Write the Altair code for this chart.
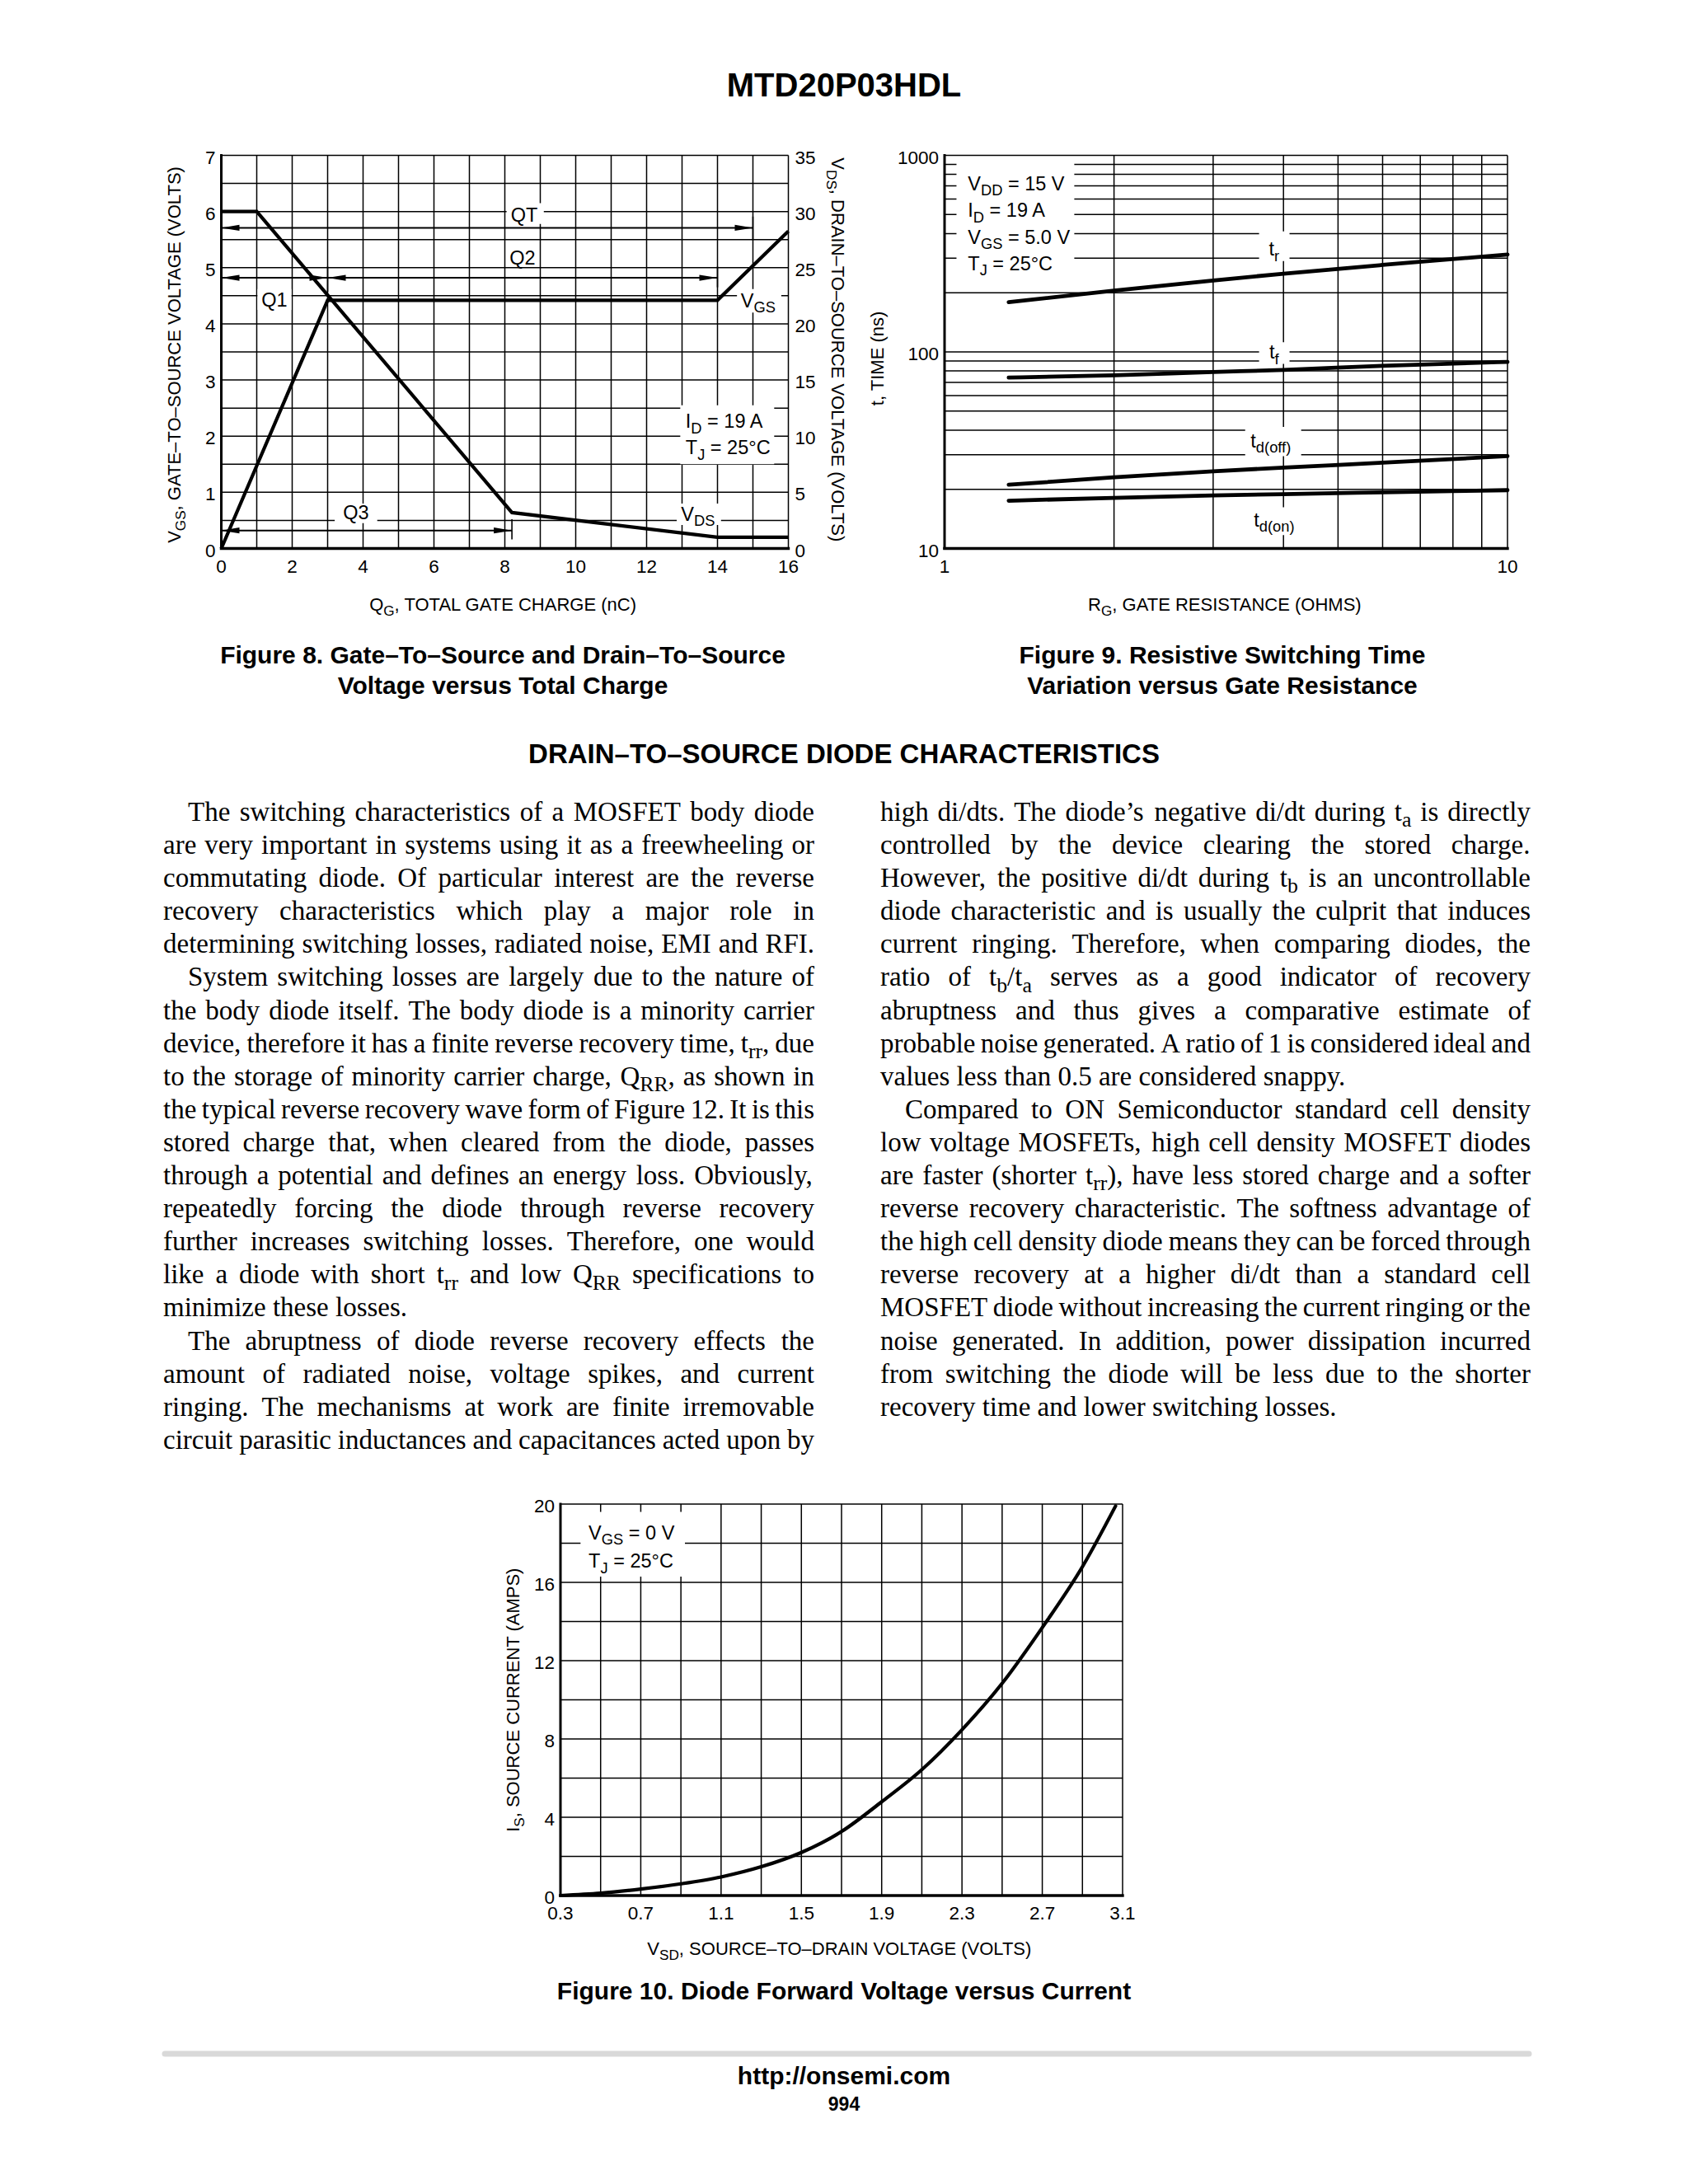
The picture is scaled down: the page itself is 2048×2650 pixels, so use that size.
import re
import altair as alt
import pandas as pd

SANS = "Liberation Sans, Arial, Helvetica, sans-serif"
SERIF = "Liberation Serif, Times New Roman, Times, serif"

# ---------------- Figure 8: gate charge ----------------
QG_VGS = [0.0, 3.0, 14.0, 16.0]
VGS_V = [0.0, 4.42, 4.42, 5.65]
QG_VDS = [0.0, 1.0, 8.2, 14.0, 16.0]
VDS_V = [30.0, 30.0, 3.2, 1.0, 1.0]
Q8_GRID = [0, 1, 2, 3, 4, 5, 6, 7, 8, 9, 10, 11, 12, 13, 14, 15, 16]
VGS_GRID = [0, 0.5, 1, 1.5, 2, 2.5, 3, 3.5, 4, 4.5, 5, 5.5, 6, 6.5, 7]
Q8_LABELS = [0, 2, 4, 6, 8, 10, 12, 14, 16]
VGS_LABELS = [0, 1, 2, 3, 4, 5, 6, 7]
VDS_LABELS = [0, 5, 10, 15, 20, 25, 30, 35]
ARROW_X1 = [0.0, 0.0, 3.0, 0.0]
ARROW_X2 = [15.0, 3.0, 14.0, 8.2]
ARROW_Y = [5.71, 4.82, 4.82, 0.32]
STOP_X = [15.0, 3.0, 14.0, 8.2]
STOP_Y1 = [5.49, 4.57, 4.65, 0.16]
STOP_Y2 = [5.91, 5.02, 5.02, 0.52]
LAB8 = [("QT", 8.55, 5.95, "center"), ("Q2", 8.5, 5.18, "center"),
        ("Q1", 1.5, 4.43, "center"), ("Q3", 3.8, 0.64, "center"),
        ("V_{GS}", 15.15, 4.42, "center"), ("V_{DS}", 13.45, 0.62, "center"),
        ("I_{D} = 19 A", 13.1, 2.27, "left"), ("T_{J} = 25°C", 13.1, 1.80, "left")]
BOX8_X1 = [8.05, 8.1, 1.02, 3.2, 14.55, 12.85, 12.95]
BOX8_X2 = [9.1, 8.95, 1.98, 4.4, 15.8, 14.1, 15.6]
BOX8_Y1 = [5.78, 5.04, 4.25, 0.45, 4.2, 0.42, 1.5]
BOX8_Y2 = [6.15, 5.36, 4.62, 0.8, 4.62, 0.8, 2.55]

# ---------------- Figure 9: switching time ----------------
RG = [1.3, 2.0, 3.0, 4.0, 6.0, 10.0]
T_R = [179, 205, 231, 250, 277, 313]
T_F = [74, 76, 79, 81, 85, 89]
T_DOFF = [21.1, 23.0, 24.7, 25.8, 27.3, 29.5]
T_DON = [17.5, 18.1, 18.6, 18.9, 19.3, 19.8]
RG_GRID = [1, 2, 3, 4, 5, 6, 7, 8, 9, 10]
T_GRID = [10, 20, 30, 40, 50, 60, 70, 80, 90, 100, 200, 300, 400, 500, 600, 700, 800, 900, 1000]
RG_LABELS = [1, 10]
T_LABELS = [10, 100, 1000]
LAB9 = [("V_{DD} = 15 V", 1.1, 719, "left"), ("I_{D} = 19 A", 1.1, 527, "left"),
        ("V_{GS} = 5.0 V", 1.1, 386, "left"), ("T_{J} = 25°C", 1.1, 282, "left"),
        ("t_{r}", 3.85, 335, "center"), ("t_{f}", 3.85, 100, "center"),
        ("t_{d(off)}", 3.8, 35.5, "center"), ("t_{d(on)}", 3.85, 14.0, "center")]
BOX9_X1 = [1.05, 3.62, 3.62, 3.42, 3.48]
BOX9_X2 = [1.70, 4.10, 4.10, 4.30, 4.28]
BOX9_Y1 = [240, 290, 87, 29.5, 11.7]
BOX9_Y2 = [950, 410, 112, 41.5, 16.2]

# ---------------- Figure 10: diode forward voltage ----------------
VSD = [0.3, 0.5, 0.7, 0.9, 1.1, 1.3, 1.5, 1.7, 1.9, 2.1, 2.3, 2.5, 2.7, 2.9, 3.065]
IS_A = [0.0, 0.12, 0.33, 0.6, 0.95, 1.47, 2.2, 3.27, 4.79, 6.43, 8.47, 10.84, 13.69, 16.8, 19.9]
VSD_GRID = [0.3, 0.5, 0.7, 0.9, 1.1, 1.3, 1.5, 1.7, 1.9, 2.1, 2.3, 2.5, 2.7, 2.9, 3.1]
IS_GRID = [0, 2, 4, 6, 8, 10, 12, 14, 16, 18, 20]
VSD_LABELS = [0.3, 0.7, 1.1, 1.5, 1.9, 2.3, 2.7, 3.1]
IS_LABELS = [0, 4, 8, 12, 16, 20]
LAB10 = [("V_{GS} = 0 V", 0.44, 18.55, "left"), ("T_{J} = 25°C", 0.44, 17.1, "left")]
BOX10_X1 = [0.40]
BOX10_X2 = [0.92]
BOX10_Y1 = [16.3]
BOX10_Y2 = [19.6]

# ---------------- page text ----------------
TITLE = "MTD20P03HDL"
CAP8 = ["Figure 8. Gate–To–Source and Drain–To–Source", "Voltage versus Total Charge"]
CAP9 = ["Figure 9. Resistive Switching Time", "Variation versus Gate Resistance"]
HEADER = "DRAIN–TO–SOURCE DIODE CHARACTERISTICS"
CAP10 = "Figure 10. Diode Forward Voltage versus Current"
URL = "http://onsemi.com"
PAGE = "994"
LEFT_LINES = [
    "The switching characteristics of a MOSFET body diode",
    "are very important in systems using it as a freewheeling or",
    "commutating diode. Of particular interest are the reverse",
    "recovery characteristics which play a major role in",
    "determining switching losses, radiated noise, EMI and RFI.",
    "System switching losses are largely due to the nature of",
    "the body diode itself. The body diode is a minority carrier",
    "device, therefore it has a finite reverse recovery time, t_{rr}, due",
    "to the storage of minority carrier charge, Q_{RR}, as shown in",
    "the typical reverse recovery wave form of Figure 12. It is this",
    "stored charge that, when cleared from the diode, passes",
    "through a potential and defines an energy loss. Obviously,",
    "repeatedly forcing the diode through reverse recovery",
    "further increases switching losses. Therefore, one would",
    "like a diode with short t_{rr} and low Q_{RR} specifications to",
    "minimize these losses.",
    "The abruptness of diode reverse recovery effects the",
    "amount of radiated noise, voltage spikes, and current",
    "ringing. The mechanisms at work are finite irremovable",
    "circuit parasitic inductances and capacitances acted upon by",
]
LEFT_INDENT = [0, 5, 16]
LEFT_LAST = [4, 15]
RIGHT_LINES = [
    "high di/dts. The diode’s negative di/dt during t_{a} is directly",
    "controlled by the device clearing the stored charge.",
    "However, the positive di/dt during t_{b} is an uncontrollable",
    "diode characteristic and is usually the culprit that induces",
    "current ringing. Therefore, when comparing diodes, the",
    "ratio of t_{b}/t_{a} serves as a good indicator of recovery",
    "abruptness and thus gives a comparative estimate of",
    "probable noise generated. A ratio of 1 is considered ideal and",
    "values less than 0.5 are considered snappy.",
    "Compared to ON Semiconductor standard cell density",
    "low voltage MOSFETs, high cell density MOSFET diodes",
    "are faster (shorter t_{rr}), have less stored charge and a softer",
    "reverse recovery characteristic. The softness advantage of",
    "the high cell density diode means they can be forced through",
    "reverse recovery at a higher di/dt than a standard cell",
    "MOSFET diode without increasing the current ringing or the",
    "noise generated. In addition, power dissipation incurred",
    "from switching the diode will be less due to the shorter",
    "recovery time and lower switching losses.",
]
RIGHT_INDENT = [9]
RIGHT_LAST = [8, 18]

# ---------------- layout (pixels from chart origin; page = +8) ----------------
PAGE_W, PAGE_H = 2032, 2634
F8 = dict(x=260.5, y=180.5, w=688, h=477)
F9 = dict(x=1138, y=180.5, w=683, h=477)
F10 = dict(x=672, y=1817, w=682, h=475)

# ---------------- font metrics (Helvetica / Times widths per 1000 em) ----------------
HELV_W = {' ': 278, '!': 278, '(': 333, ')': 333, ',': 278, '-': 333, '.': 278, '/': 278,
          ':': 278, '=': 584, '°': 400, '–': 556, '’': 222}
TIMES_W = {' ': 250, '!': 333, '(': 333, ')': 333, ',': 250, '-': 333, '.': 250, '/': 278,
           ':': 278, ';': 278, '=': 564, '’': 333, '–': 500, '?': 444}
for _c in '0123456789':
    HELV_W[_c] = 556
    TIMES_W[_c] = 500
HELV_W.update(dict(zip('ABCDEFGHIJKLMNOPQRSTUVWXYZ',
    [667, 667, 722, 722, 667, 611, 778, 722, 278, 500, 667, 556, 833, 722, 778, 667, 778, 722, 667, 611, 722, 667, 944, 667, 667, 611])))
HELV_W.update(dict(zip('abcdefghijklmnopqrstuvwxyz',
    [556, 556, 500, 556, 556, 278, 556, 556, 222, 222, 500, 222, 833, 556, 556, 556, 556, 333, 500, 278, 556, 500, 722, 500, 500, 500])))
TIMES_W.update(dict(zip('ABCDEFGHIJKLMNOPQRSTUVWXYZ',
    [722, 667, 667, 722, 611, 556, 722, 722, 333, 389, 722, 611, 889, 722, 722, 556, 722, 667, 556, 611, 722, 722, 944, 722, 722, 611])))
TIMES_W.update(dict(zip('abcdefghijklmnopqrstuvwxyz',
    [444, 500, 444, 500, 444, 333, 500, 500, 278, 278, 500, 278, 778, 500, 500, 500, 500, 333, 389, 278, 500, 500, 722, 500, 500, 444])))
SUB = 0.78
TICK_SIZE = 22.5
LABEL_SIZE = 23.5
TITLE_SIZE = 22


def tw(text, size, table):
    return sum(table.get(c, 500) for c in text) / 1000.0 * size


def parse(markup):
    out, pos = [], 0
    for m in re.finditer(r'_\{([^}]*)\}', markup):
        if m.start() > pos:
            out.append((markup[pos:m.start()], False))
        out.append((m.group(1), True))
        pos = m.end()
    if pos < len(markup):
        out.append((markup[pos:], False))
    return out


def layout_pieces(markup, size, table, align):
    items, along = [], 0.0
    for t, s in parse(markup):
        fs = size * SUB if s else size
        stripped = t.lstrip(' ')
        along += tw(t[:len(t) - len(stripped)], fs, table)
        t2 = stripped.rstrip(' ')
        if t2:
            items.append((t2, s, fs, along))
        along += tw(stripped, fs, table)
    shift = {'left': 0.0, 'center': -along / 2, 'right': -along}[align]
    return [(t, s, fs, a + shift) for t, s, fs, a in items]


def S(domain, rng, log=False):
    if log:
        return alt.Scale(type='log', domain=domain, range=rng, nice=False)
    return alt.Scale(domain=domain, range=rng, nice=False, zero=False)


def XQ(f, sc):
    return alt.X(f, type='quantitative', scale=sc, axis=None)


def YQ(f, sc):
    return alt.Y(f, type='quantitative', scale=sc, axis=None)


GRID_W = 1.5


def grid(xv, yv, sx, sy, xdom, ydom):
    v = pd.DataFrame({'v': xv, 'lo': ydom[0], 'hi': ydom[1]})
    h = pd.DataFrame({'v': yv, 'lo': xdom[0], 'hi': xdom[1]})
    return [
        alt.Chart(v).mark_rule(color='black', strokeWidth=GRID_W).encode(x=XQ('v', sx), y=YQ('lo', sy), y2='hi'),
        alt.Chart(h).mark_rule(color='black', strokeWidth=GRID_W).encode(y=YQ('v', sy), x=XQ('lo', sx), x2='hi'),
    ]


def frame(sx, sy, xdom, ydom):
    left = pd.DataFrame({'v': [xdom[0]], 'lo': [ydom[0]], 'hi': [ydom[1]]})
    bottom = pd.DataFrame({'v': [ydom[0]], 'lo': [xdom[0]], 'hi': [xdom[1]]})
    return [
        alt.Chart(left).mark_rule(color='black', strokeWidth=3.0, strokeCap='square').encode(
            x=XQ('v', sx), y=YQ('lo', sy), y2='hi'),
        alt.Chart(bottom).mark_rule(color='black', strokeWidth=3.4, strokeCap='square').encode(
            y=YQ('v', sy), x=XQ('lo', sx), x2='hi'),
    ]


def boxes(x1, x2, y1, y2, sx, sy):
    df = pd.DataFrame({'x1': x1, 'x2': x2, 'y1': y1, 'y2': y2})
    return alt.Chart(df).mark_rect(color='white').encode(x=XQ('x1', sx), x2='x2', y=YQ('y1', sy), y2='y2')


def tick_labels(vals, texts, at, sx, sy, side, size=TICK_SIZE):
    df = pd.DataFrame({'v': vals, 't': texts, 'b': at})
    if side == 'bottom':
        m = alt.Chart(df).mark_text(font=SANS, fontSize=size, align='center', baseline='top', dy=11,
                                    angle=0, color='black')
        return m.encode(x=XQ('v', sx), y=YQ('b', sy), text='t:N')
    if side == 'left':
        m = alt.Chart(df).mark_text(font=SANS, fontSize=size, align='right', baseline='middle', dx=-7, dy=3,
                                    angle=0, color='black')
        return m.encode(y=YQ('v', sy), x=XQ('b', sx), text='t:N')
    m = alt.Chart(df).mark_text(font=SANS, fontSize=size, align='left', baseline='middle', dx=8, dy=3,
                                angle=0, color='black')
    return m.encode(y=YQ('v', sy), x=XQ('b', sx), text='t:N')


def fig_labels(specs, sx, sy, size=LABEL_SIZE):
    layers = []
    for markup, x, y, align in specs:
        df = pd.DataFrame({'x': [x], 'y': [y]})
        for t, s, fs, along in layout_pieces(markup, size, HELV_W, align):
            dy = 0.36 * size + (0.27 * size if s else 0)
            layers.append(
                alt.Chart(df).mark_text(text=t, font=SANS, fontSize=fs, align='left', baseline='alphabetic',
                                        dx=along, dy=dy, angle=0, color='black')
                .encode(x=XQ('x', sx), y=YQ('y', sy)))
    return layers


def fmt(v):
    return str(v)


layers = []

# ---------------- Figure 8 ----------------
sx8 = S([0, 16], [F8['x'], F8['x'] + F8['w']])
sy8 = S([0, 7], [F8['y'] + F8['h'], F8['y']])
sy8r = S([0, 35], [F8['y'] + F8['h'], F8['y']])
layers += grid(Q8_GRID, VGS_GRID, sx8, sy8, [0, 16], [0, 7])
layers.append(boxes(BOX8_X1, BOX8_X2, BOX8_Y1, BOX8_Y2, sx8, sy8))
layers += frame(sx8, sy8, [0, 16], [0, 7])
layers.append(alt.Chart(pd.DataFrame({'q': QG_VGS, 'v': VGS_V})).mark_line(color='black', strokeWidth=4.2)
              .encode(x=XQ('q', sx8), y=YQ('v', sy8)))
layers.append(alt.Chart(pd.DataFrame({'q': QG_VDS, 'v': VDS_V})).mark_line(color='black', strokeWidth=4.2)
              .encode(x=XQ('q', sx8), y=YQ('v', sy8r)))
layers.append(alt.Chart(pd.DataFrame({'x1': ARROW_X1, 'x2': ARROW_X2, 'y': ARROW_Y}))
              .mark_rule(color='black', strokeWidth=2).encode(x=XQ('x1', sx8), x2='x2', y=YQ('y', sy8)))
layers.append(alt.Chart(pd.DataFrame({'x': STOP_X, 'y1': STOP_Y1, 'y2': STOP_Y2}))
              .mark_rule(color='black', strokeWidth=1.6).encode(x=XQ('x', sx8), y=YQ('y1', sy8), y2='y2'))
layers.append(alt.Chart(pd.DataFrame({'x': ARROW_X2, 'y': ARROW_Y}))
              .mark_point(shape="M0,0L-2,-0.33L-2,0.33Z", filled=True, size=484, color='black', opacity=1)
              .encode(x=XQ('x', sx8), y=YQ('y', sy8)))
layers.append(alt.Chart(pd.DataFrame({'x': ARROW_X1, 'y': ARROW_Y}))
              .mark_point(shape="M0,0L2,-0.33L2,0.33Z", filled=True, size=484, color='black', opacity=1)
              .encode(x=XQ('x', sx8), y=YQ('y', sy8)))
layers += fig_labels(LAB8, sx8, sy8)
layers.append(tick_labels(Q8_LABELS, [fmt(v) for v in Q8_LABELS], 0, sx8, sy8, 'bottom'))
layers.append(tick_labels(VGS_LABELS, [fmt(v) for v in VGS_LABELS], 0, sx8, sy8, 'left'))
layers.append(tick_labels(VDS_LABELS, [fmt(v) for v in VDS_LABELS], 16, sx8, sy8r, 'right'))

# ---------------- Figure 9 ----------------
sx9 = S([1, 10], [F9['x'], F9['x'] + F9['w']], log=True)
sy9 = S([10, 1000], [F9['y'] + F9['h'], F9['y']], log=True)
layers += grid(RG_GRID, T_GRID, sx9, sy9, [1, 10], [10, 1000])
layers.append(boxes(BOX9_X1, BOX9_X2, BOX9_Y1, BOX9_Y2, sx9, sy9))
layers += frame(sx9, sy9, [1, 10], [10, 1000])
df9 = pd.concat([pd.DataFrame({'rg': RG, 't': T_R, 's': 'tr'}),
                 pd.DataFrame({'rg': RG, 't': T_F, 's': 'tf'}),
                 pd.DataFrame({'rg': RG, 't': T_DOFF, 's': 'tdoff'}),
                 pd.DataFrame({'rg': RG, 't': T_DON, 's': 'tdon'})], ignore_index=True)
layers.append(alt.Chart(df9).mark_line(color='black', strokeWidth=4.8, strokeCap='round', interpolate='monotone')
              .encode(x=XQ('rg', sx9), y=YQ('t', sy9), detail='s:N'))
layers += fig_labels(LAB9, sx9, sy9)
layers.append(tick_labels(RG_LABELS, [fmt(v) for v in RG_LABELS], 10, sx9, sy9, 'bottom'))
layers.append(tick_labels(T_LABELS, [fmt(v) for v in T_LABELS], 1, sx9, sy9, 'left'))

# ---------------- Figure 10 ----------------
sx10 = S([0.3, 3.1], [F10['x'], F10['x'] + F10['w']])
sy10 = S([0, 20], [F10['y'] + F10['h'], F10['y']])
layers += grid(VSD_GRID, IS_GRID, sx10, sy10, [0.3, 3.1], [0, 20])
layers.append(boxes(BOX10_X1, BOX10_X2, BOX10_Y1, BOX10_Y2, sx10, sy10))
layers += frame(sx10, sy10, [0.3, 3.1], [0, 20])
layers.append(alt.Chart(pd.DataFrame({'v': VSD, 'i': IS_A}))
              .mark_line(color='black', strokeWidth=4.2, strokeCap='round', interpolate='monotone')
              .encode(x=XQ('v', sx10), y=YQ('i', sy10)))
layers += fig_labels(LAB10, sx10, sy10)
layers.append(tick_labels(VSD_LABELS, [fmt(v) for v in VSD_LABELS], 0, sx10, sy10, 'bottom'))
layers.append(tick_labels(IS_LABELS, [fmt(v) for v in IS_LABELS], 0.3, sx10, sy10, 'left'))

# ---------------- page text ----------------
rows = []


def add_text(cx, cy, markup, size, font='sans', weight='normal', angle=0, align='center', lift=0.36):
    table = HELV_W if font == 'sans' else TIMES_W
    if '_{' not in markup:
        rows.append(dict(x=cx, y=cy + lift * size, text=markup, size=size, font=font, weight=weight,
                         angle=angle, align=align))
        return
    for t, s, fs, along in layout_pieces(markup, size, table, align):
        perp = lift * size + (0.27 * size if s else 0)
        if angle == 0:
            x, y = cx + along, cy + perp
        elif angle == 270:
            x, y = cx + perp, cy - along
        else:
            x, y = cx - perp, cy + along
        rows.append(dict(x=x, y=y, text=t, size=fs, font=font, weight=weight, angle=angle, align='left'))


add_text(1016, 95, TITLE, 40, weight='bold')
add_text(602, 787, CAP8[0], 30, weight='bold', lift=0.33)
add_text(602, 824, CAP8[1], 30, weight='bold', lift=0.33)
add_text(1475, 787, CAP9[0], 30, weight='bold', lift=0.33)
add_text(1475, 824, CAP9[1], 30, weight='bold', lift=0.33)
add_text(1016, 906, HEADER, 33, weight='bold')
add_text(1016, 2408, CAP10, 30, weight='bold', lift=0.33)
add_text(1016, 2511, URL, 30, weight='bold', lift=0.33)
add_text(1016, 2545, PAGE, 23, weight='bold')

add_text(F8['x'] + F8['w'] / 2, 725, "Q_{G}, TOTAL GATE CHARGE (nC)", TITLE_SIZE)
add_text(203, F8['y'] + F8['h'] / 2, "V_{GS}, GATE–TO–SOURCE VOLTAGE (VOLTS)", TITLE_SIZE, angle=270)
add_text(1009, F8['y'] + F8['h'] / 2, "V_{DS}, DRAIN–TO–SOURCE VOLTAGE (VOLTS)", TITLE_SIZE, angle=90)
add_text(1064, F9['y'] + F9['h'] / 2, "t, TIME (ns)", TITLE_SIZE, angle=270)
add_text(F9['x'] + F9['w'] / 2, 725, "R_{G}, GATE RESISTANCE (OHMS)", TITLE_SIZE)
add_text(614, F10['y'] + F10['h'] / 2, "I_{S}, SOURCE CURRENT (AMPS)", TITLE_SIZE, angle=270)
add_text(F10['x'] + F10['w'] / 2, 2356, "V_{SD}, SOURCE–TO–DRAIN VOLTAGE (VOLTS)", TITLE_SIZE)


def body(lines, indents, lasts, x0, width, y0, lh=40.1, size=33, indent_px=30):
    for i, line in enumerate(lines):
        words = line.split(' ')
        wp = [parse(w) for w in words]
        ww = [sum(tw(t, size * SUB if s else size, TIMES_W) for t, s in p) for p in wp]
        ind = indent_px if i in indents else 0
        avail = width - ind
        natural = sum(ww) + 0.25 * size * (len(words) - 1)
        if (i in lasts and natural < 0.95 * avail) or len(words) == 1:
            gap = 0.25 * size
        else:
            gap = (avail - sum(ww)) / (len(words) - 1)
        x = x0 + ind
        y = y0 + i * lh
        for p, w in zip(wp, ww):
            xx = x
            for t, s in p:
                fs = size * SUB if s else size
                rows.append(dict(x=xx, y=y + 0.3 * size + (0.22 * size if s else 0), text=t, size=fs,
                                 font='serif', weight='normal', angle=0, align='left'))
                xx += tw(t, fs, TIMES_W)
            x += w + gap


body(LEFT_LINES, LEFT_INDENT, LEFT_LAST, 190, 790, 978)
body(RIGHT_LINES, RIGHT_INDENT, RIGHT_LAST, 1060, 789, 978)

DUMMY = pd.DataFrame({'a': [0]})
layers.append(alt.Chart(DUMMY).mark_rule(color='#d9d9d9', strokeWidth=7, strokeCap='round').encode(
    x=alt.value(192), x2=alt.value(1847), y=alt.value(2484)))
canvas_df = pd.DataFrame(rows)
for (font, weight, angle, align), g in canvas_df.groupby(['font', 'weight', 'angle', 'align']):
    layers.append(
        alt.Chart(g[['x', 'y', 'text', 'size']].reset_index(drop=True)).mark_text(
            font=SANS if font == 'sans' else SERIF, fontWeight=weight, angle=float(angle), align=align,
            baseline='alphabetic', color='black')
        .encode(x=alt.X('x:Q', scale=None, axis=None), y=alt.Y('y:Q', scale=None, axis=None), text='text:N',
                size=alt.Size('size:Q', scale=None, legend=None)))

chart = alt.layer(*layers).resolve_scale(x='independent', y='independent').properties(
    width=PAGE_W, height=PAGE_H, padding=0, background='white').configure_view(strokeOpacity=0)

chart.save("out.html", embed_options={"renderer": "svg", "actions": False})
